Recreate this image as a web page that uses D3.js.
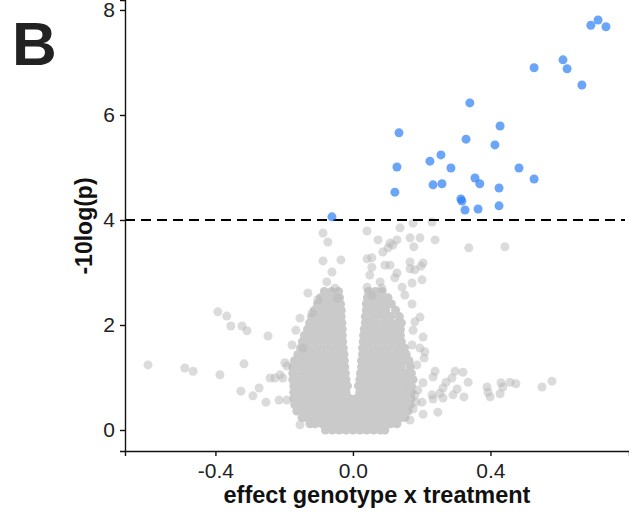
<!DOCTYPE html>
<html>
<head>
<meta charset="utf-8">
<script src="https://cdn.jsdelivr.net/npm/d3@7"></script>
<style>
  body { margin: 0; background: #fff; }
  text { font-family: "Liberation Sans", Arial, sans-serif; }
</style>
</head>
<body>
<div id="chart"></div>
<script>
// significant hits above the threshold: [effect, -10log(p)]
const blueX = [0.692, 0.713, 0.736, 0.611, 0.623, 0.527, 0.666, 0.340, 0.428, 0.134,
  0.329, 0.413, 0.256, 0.224, 0.128, 0.285, 0.483, 0.527, 0.355, 0.369,
  0.233, 0.259, 0.425, 0.122, 0.314, 0.317, 0.326, 0.364, 0.425, -0.061];
const blueY = [7.71, 7.81, 7.68, 7.05, 6.88, 6.90, 6.57, 6.23, 5.79, 5.66,
  5.54, 5.43, 5.24, 5.12, 5.01, 4.99, 4.99, 4.78, 4.80, 4.69,
  4.67, 4.69, 4.61, 4.53, 4.40, 4.36, 4.19, 4.21, 4.27, 4.06];

// scattered grey points (below threshold, outside the dense core)
const greyX = [-0.087, -0.073, -0.087, -0.035, -0.061, -0.076, -0.052, -0.131, -0.102, -0.044, -0.119,
  0.041, 0.073, 0.108, 0.128, 0.137, 0.175, 0.230, 0.239, 0.195, 0.166, 0.177, 0.337, 0.442,
  0.087, 0.102, 0.116, 0.041, 0.055, 0.108, 0.093, 0.166, 0.204, 0.198, 0.166, 0.180, 0.128,
  0.049, 0.055, 0.201, 0.172, 0.143, 0.122, 0.079, 0.084, 0.041, 0.055, 0.151, 0.172, 0.195,
  0.180, 0.175, 0.204, 0.195, 0.209, 0.207, 0.239, 0.233, 0.297, 0.320, 0.288, 0.335, 0.271,
  0.204, 0.262, 0.303, 0.230, 0.253, 0.233, 0.262, 0.291, 0.323, 0.390, 0.393, 0.399, 0.428,
  0.431, 0.457, 0.474, 0.436, 0.550, 0.579, 0.201, 0.175, 0.204, 0.247, 0.186, 0.180, 0.166,
  -0.596, -0.489, -0.465, -0.387, -0.393, -0.367, -0.355, -0.323, -0.308, -0.247, -0.317,
  -0.326, -0.291, -0.273, -0.253, -0.215, -0.192, -0.212, -0.227, -0.145, -0.198, -0.204,
  -0.192, -0.241, -0.154, -0.166, -0.177, -0.154, 0.172, 0.189, 0.183];
const greyY = [3.75, 3.58, 3.22, 3.24, 3.01, 2.82, 2.70, 2.61, 2.48, 2.51, 2.23,
  3.79, 3.62, 3.56, 3.62, 3.85, 3.94, 3.96, 3.62, 3.66, 3.66, 3.49, 3.47, 3.49,
  3.39, 3.47, 3.52, 3.26, 3.28, 3.14, 3.14, 3.20, 3.18, 3.12, 3.07, 3.05, 2.99,
  2.95, 3.10, 2.86, 2.80, 2.72, 2.90, 2.82, 2.70, 2.72, 2.57, 2.57, 2.40, 2.15,
  2.06, 1.90, 1.77, 1.56, 1.49, 1.37, 1.12, 1.01, 1.12, 1.10, 0.99, 0.91, 0.91,
  0.90, 0.80, 0.78, 0.67, 0.70, 0.59, 0.61, 0.67, 0.63, 0.82, 0.72, 0.63, 0.69,
  0.90, 0.91, 0.88, 0.82, 0.82, 0.93, 0.53, 0.40, 0.30, 0.34, 1.24, 0.67, 0.19,
  1.24, 1.18, 1.12, 1.05, 2.25, 2.17, 1.98, 1.98, 1.89, 1.79, 1.26,
  0.74, 0.65, 0.80, 0.53, 0.57, 1.22, 1.05, 0.99, 1.56, 1.28, 0.99,
  0.57, 0.99, 0.10, 1.90, 1.62, 2.13, 1.62, 0.76, 0.53];

// dense V-shaped core, read row by row: -10log(p) level and effects on that row
const coreLevels = [0, 0.12, 0.24, 0.36, 0.48, 0.60, 0.72, 0.84, 0.96, 1.08, 1.20, 1.32,
  1.44, 1.56, 1.68, 1.80, 1.92, 2.04, 2.16, 2.28, 2.40, 2.52, 2.64];
const coreEffects = [
  [-0.08, -0.06, -0.04, -0.02, 0, 0.02, 0.04, 0.06, 0.08, 0.093],
  [-0.125, -0.11, -0.09, -0.07, -0.05, -0.03, -0.01, 0.01, 0.03, 0.05, 0.07, 0.09, 0.11, 0.128],
  [-0.148, -0.14, -0.12, -0.10, -0.08, -0.06, -0.04, -0.02, 0, 0.02, 0.04, 0.06, 0.08, 0.10, 0.12, 0.14, 0.151],
  [-0.163, -0.15, -0.13, -0.11, -0.09, -0.07, -0.05, -0.03, -0.01, 0.01, 0.03, 0.05, 0.07, 0.09, 0.11, 0.13, 0.15, 0.16],
  [-0.169, -0.16, -0.14, -0.12, -0.10, -0.08, -0.06, -0.04, -0.02, 0, 0.02, 0.04, 0.06, 0.08, 0.10, 0.12, 0.14, 0.16, 0.166],
  [-0.172, -0.15, -0.13, -0.11, -0.09, -0.07, -0.05, -0.03, -0.01, 0.01, 0.03, 0.05, 0.07, 0.09, 0.11, 0.13, 0.15, 0.169],
  [-0.172, -0.16, -0.14, -0.12, -0.10, -0.08, -0.06, -0.04, -0.02, 0.02, 0.04, 0.06, 0.08, 0.10, 0.12, 0.14, 0.16, 0.17],
  [-0.172, -0.15, -0.13, -0.11, -0.09, -0.07, -0.05, -0.03, -0.016, 0.016, 0.03, 0.05, 0.07, 0.09, 0.11, 0.13, 0.15, 0.17],
  [-0.175, -0.16, -0.14, -0.12, -0.10, -0.08, -0.06, -0.04, -0.02, 0.02, 0.04, 0.06, 0.08, 0.10, 0.12, 0.14, 0.16, 0.175],
  [-0.175, -0.15, -0.13, -0.11, -0.09, -0.07, -0.05, -0.035, -0.022, 0.022, 0.035, 0.05, 0.07, 0.09, 0.11, 0.13, 0.15, 0.17],
  [-0.175, -0.16, -0.14, -0.12, -0.10, -0.08, -0.06, -0.04, -0.024, 0.025, 0.04, 0.06, 0.08, 0.10, 0.12, 0.14, 0.166],
  [-0.17, -0.15, -0.13, -0.11, -0.09, -0.07, -0.05, -0.035, -0.025, 0.025, 0.035, 0.05, 0.07, 0.09, 0.11, 0.13, 0.15, 0.163],
  [-0.16, -0.14, -0.12, -0.10, -0.08, -0.06, -0.04, -0.026, 0.028, 0.04, 0.06, 0.08, 0.10, 0.12, 0.14, 0.155],
  [-0.152, -0.13, -0.11, -0.09, -0.07, -0.05, -0.035, -0.028, 0.028, 0.035, 0.05, 0.07, 0.09, 0.11, 0.13, 0.15],
  [-0.147, -0.13, -0.11, -0.09, -0.07, -0.05, -0.03, 0.03, 0.05, 0.07, 0.09, 0.11, 0.13, 0.141],
  [-0.141, -0.12, -0.10, -0.08, -0.06, -0.045, -0.031, 0.031, 0.045, 0.06, 0.08, 0.10, 0.12, 0.138],
  [-0.132, -0.12, -0.10, -0.08, -0.06, -0.045, -0.031, 0.033, 0.05, 0.07, 0.09, 0.11, 0.13, 0.138],
  [-0.126, -0.11, -0.09, -0.07, -0.05, -0.032, 0.036, 0.05, 0.07, 0.09, 0.11, 0.13, 0.141],
  [-0.12, -0.10, -0.08, -0.06, -0.045, -0.034, 0.036, 0.05, 0.07, 0.09, 0.11, 0.135],
  [-0.112, -0.095, -0.075, -0.055, -0.034, 0.039, 0.055, 0.075, 0.095, 0.124],
  [-0.103, -0.085, -0.065, -0.05, -0.036, 0.039, 0.055, 0.075, 0.095, 0.112],
  [-0.094, -0.075, -0.055, -0.039, 0.042, 0.06, 0.08, 0.102],
  [-0.083, -0.062, -0.042, 0.045, 0.065, 0.085]
];

const xTicks = [-0.4, 0.0, 0.4];
const yTicks = [0, 2, 4, 6, 8];
const threshold = 4;

const width = 629;
const height = 530;
const plot = { left: 125, right: 629, top: 0, bottom: 451 };
const r = 4.5;

const x = d3.scaleLinear().domain([-0.663, 0.803]).range([plot.left, plot.right]);
const y = d3.scaleLinear().domain([-0.4, 8.19]).range([plot.bottom, plot.top]);

const svg = d3.select("#chart").append("svg")
  .attr("width", width)
  .attr("height", height);

// flatten the core rows into points
const core = [];
coreLevels.forEach((lv, i) => coreEffects[i].forEach(e => core.push([e, lv])));

const grey = greyX.map((d, i) => [d, greyY[i]]);
const blue = blueX.map((d, i) => [d, blueY[i]]);

svg.append("g").selectAll("circle")
  .data(core)
  .join("circle")
  .attr("cx", d => x(d[0]))
  .attr("cy", d => y(d[1]))
  .attr("r", r)
  .attr("fill", "#cacaca");

svg.append("g").selectAll("circle")
  .data(grey)
  .join("circle")
  .attr("cx", d => x(d[0]))
  .attr("cy", d => y(d[1]))
  .attr("r", r)
  .attr("fill", "#b8b8b8")
  .attr("fill-opacity", 0.5);

// threshold line
svg.append("line")
  .attr("x1", plot.left).attr("x2", 625)
  .attr("y1", y(threshold)).attr("y2", y(threshold))
  .attr("stroke", "#000")
  .attr("stroke-width", 2)
  .attr("stroke-dasharray", "10,6");

svg.append("g").selectAll("circle")
  .data(blue)
  .join("circle")
  .attr("cx", d => x(d[0]))
  .attr("cy", d => y(d[1]))
  .attr("r", r)
  .attr("fill", "#2b7ff5")
  .attr("fill-opacity", 0.7);

// axes (plain hyphen for negatives, like the original)
const fmt = d => d3.format(".1f")(d).replace("\u2212", "-");

const xAxis = svg.append("g")
  .attr("transform", `translate(0,${plot.bottom})`)
  .call(d3.axisBottom(x).tickValues(xTicks).tickFormat(fmt).tickSizeOuter(0).tickSize(5).tickPadding(7));

const yAxis = svg.append("g")
  .attr("transform", `translate(${plot.left},0)`)
  .call(d3.axisLeft(y).tickValues(yTicks).tickSizeOuter(0).tickSize(5).tickPadding(5));

[xAxis, yAxis].forEach(g => {
  g.select(".domain").attr("stroke", "#111").attr("stroke-width", 1.4);
  g.selectAll(".tick line").attr("stroke", "#111").attr("stroke-width", 1.4);
  g.selectAll(".tick text")
    .attr("font-size", 21)
    .attr("fill", "#222")
    .style("font-family", "'Liberation Sans', Arial, sans-serif");
});

svg.append("text")
  .attr("x", 377)
  .attr("y", 503)
  .attr("text-anchor", "middle")
  .attr("font-size", 23.5)
  .attr("font-weight", "bold")
  .attr("fill", "#111")
  .text("effect genotype x treatment");

svg.append("text")
  .attr("transform", "translate(92,226) rotate(-90)")
  .attr("text-anchor", "middle")
  .attr("font-size", 23)
  .attr("font-weight", "bold")
  .attr("fill", "#111")
  .text("-10log(p)");

svg.append("text")
  .attr("x", 12)
  .attr("y", 65)
  .attr("font-size", 62)
  .attr("font-weight", "bold")
  .attr("fill", "#222")
  .text("B");
</script>
</body>
</html>
